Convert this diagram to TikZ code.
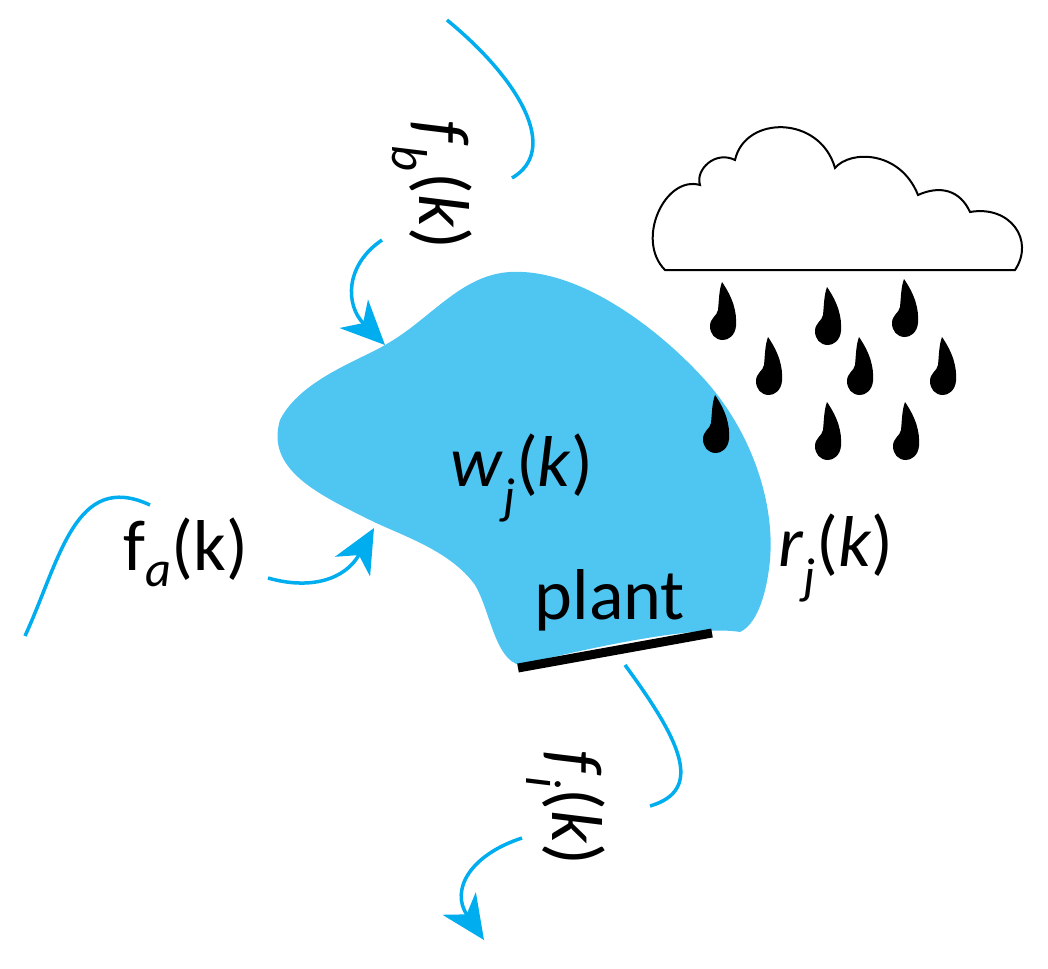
\documentclass[tikz,border=0pt]{standalone}
\usepackage{fontspec}
\setmainfont{Carlito}
\usetikzlibrary{arrows.meta}
\definecolor{lake}{RGB}{79, 197, 242}
\definecolor{flow}{RGB}{0, 174, 239}
\newcommand{\sub}[1]{\textsubscript{\textit{#1}}}
\tikzset{
    flowline/.style={draw=flow, line width=3.5pt},
    flowarrow/.style={flowline, -{Stealth[length=44pt, width=40pt, inset=13pt]}},
    label/.style={font=\fontsize{72}{80}\selectfont, inner sep=0pt},
    drop/.pic={
      \fill (-1,-58) .. controls (10,-42) and (14,-28) .. (13,-14)
        .. controls (12,-4) and (5,0) .. (0,0)
        .. controls (-8,0) and (-13,-6) .. (-13,-14)
        .. controls (-13,-22) and (-6,-24) .. (-5,-30)
        .. controls (-4,-40) and (-4,-50) .. (-1,-58) -- cycle;
    },
}
\begin{document}
\begin{tikzpicture}[x=1pt, y=-1pt]
  \useasboundingbox (0,0) rectangle (1048,968);

  % lake
  \fill[lake] (280,420) .. controls (300,380) and (360,360) .. (385,345)
    .. controls (430,320) and (460,275) .. (510,272)
    .. controls (580,268) and (660,330) .. (705,380)
    .. controls (750,430) and (775,500) .. (770,560)
    .. controls (766,600) and (755,625) .. (740,632)
    .. controls (700,625) and (600,645) .. (520,665)
    .. controls (495,660) and (490,610) .. (475,585)
    .. controls (450,550) and (400,535) .. (370,520)
    .. controls (320,495) and (265,470) .. (280,420) -- cycle;
  \draw[line width=9pt] (518,668) coordinate (plantL) -- (712,633) coordinate (plantR);
  \node[label] (plant) at (610,600) {plant};
  \node[label] (lakew) at (522,478) {\textit{w}\sub{j}(\textit{k})};

  % flows
  \draw[flowline] (447,20) .. controls (520,80) and (560,150) .. (512,178);
  \draw[flowarrow] (382,240) .. controls (345,265) and (345,305) .. (385,345);
  \node[label, rotate=-90] (fb) at (432,185) {\textit{f}\sub{b}(\textit{k})};

  \draw[flowline] (25,636) .. controls (60,560) and (75,470) .. (150,505);
  \draw[flowarrow] (268,578) .. controls (310,590) and (345,580) .. (374,528);
  \node[label] (fa) at (186,552) {f\sub{a}(k)};

  \draw[flowline] (625,665) .. controls (680,740) and (705,790) .. (650,806);
  \draw[flowarrow] (522,838) .. controls (470,855) and (450,890) .. (484,940);
  \node[label, rotate=-90] (fi) at (566,808) {\textit{f}\sub{i}(\textit{k})};

  \node[label] (rain) at (836,558) {\textit{r}\sub{j}(\textit{k})};

  % cloud
  \draw[line width=2pt, fill=white] (665,270) -- (1015,270)
    .. controls (1035,240) and (1010,205) .. (970,212)
    .. controls (960,190) and (940,185) .. (918,195)
    .. controls (900,150) and (850,150) .. (835,168)
    .. controls (820,115) and (745,115) .. (735,160)
    .. controls (715,150) and (695,170) .. (700,185)
    .. controls (665,175) and (635,240) .. (665,270) -- cycle;

  % drops
  \foreach \x/\y in {723/340, 828/345, 905/337, 769/395, 860/395,
                     943/395, 716/453, 828/460, 906/460}
    \pic at (\x,\y) {drop};
\end{tikzpicture}
\end{document}
